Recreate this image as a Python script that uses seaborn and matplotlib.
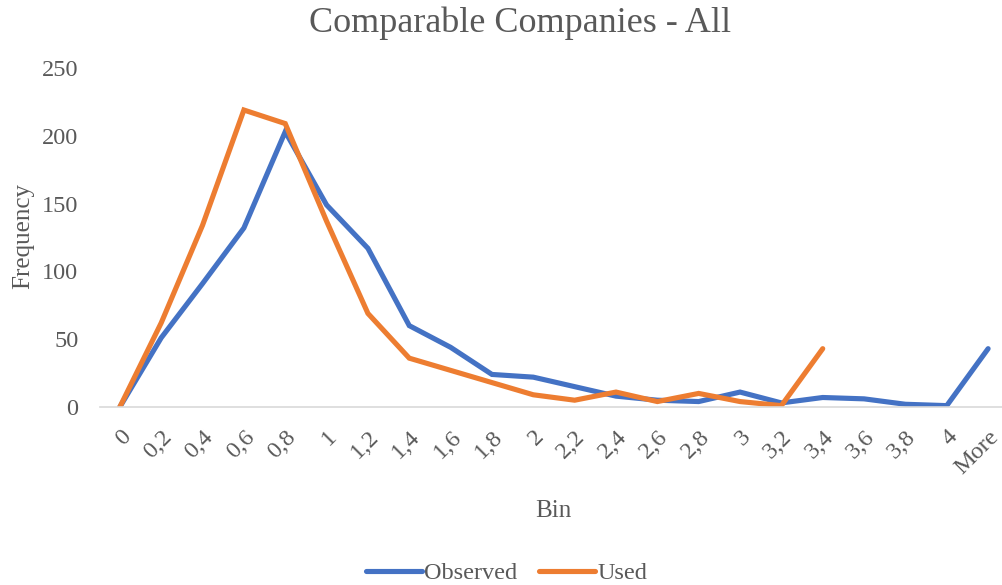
import numpy as np
import pandas as pd
import matplotlib
matplotlib.use("Agg")
import matplotlib.pyplot as plt
import seaborn as sns

bins = ["0", "0,2", "0,4", "0,6", "0,8", "1", "1,2", "1,4", "1,6", "1,8", "2",
        "2,2", "2,4", "2,6", "2,8", "3", "3,2", "3,4", "3,6", "3,8", "4", "More"]
observed = [0, 51, 91, 132, 203, 149, 117, 60, 44, 24, 22,
            15, 8, 5, 4, 11, 3, 7, 6, 2, 1, 43]
used = [0, 62, 134, 219, 209, 137, 69, 36, 27, 18, 9,
        5, 11, 4, 10, 4, 1, 43, np.nan, np.nan, np.nan, np.nan]

series_names = ["Observed", "Used"]
series_colors = ["#4472C4", "#ED7D31"]
text_color = "#595959"

df = pd.DataFrame({
    "pos": list(range(len(bins))) * 2,
    "Frequency": observed + used,
    "series": [series_names[0]] * len(bins) + [series_names[1]] * len(bins),
})

sns.set_style("white")
plt.rcParams["font.family"] = ["Liberation Serif", "DejaVu Serif"]

fig = plt.figure(figsize=(10.03, 5.85), dpi=100)
ax = fig.add_axes([0.0997, 0.3043, 0.9003, 0.5795])

line_w = 3.7
sns.lineplot(data=df, x="pos", y="Frequency", hue="series",
             hue_order=series_names, palette=series_colors,
             linewidth=line_w, ax=ax, legend=False, sort=False)
for ln in ax.lines:
    ln.set_solid_capstyle("round")
    ln.set_solid_joinstyle("miter")

ax.set_xlim(-0.48, 21.36)
ax.set_ylim(0, 250)
ax.set_yticks([0, 50, 100, 150, 200, 250])
ax.set_xticks(range(len(bins)))
ax.set_xticklabels(bins, rotation=45, ha="right", va="top",
                   rotation_mode="anchor")
ax.tick_params(axis="both", length=0, labelsize=17.5, labelcolor=text_color)
ax.tick_params(axis="x", pad=14)
ax.tick_params(axis="y", pad=15.5)

for side in ["top", "right", "left"]:
    ax.spines[side].set_visible(False)
ax.spines["bottom"].set_color("#D9D9D9")
ax.spines["bottom"].set_linewidth(1.2)

ax.set_xlabel("Bin", fontsize=18, color=text_color)
ax.xaxis.set_label_coords(0.5017, -0.274)
ax.set_ylabel("Frequency", fontsize=18, color=text_color, va="center")
ax.yaxis.set_label_coords(-0.0853, 0.504)
fig.text(0.519, 0.960, "Comparable Companies - All", ha="center", va="center",
         fontsize=26, color=text_color)

handles = [plt.Line2D([0], [0], color=c, linewidth=line_w, solid_capstyle="round")
           for c in series_colors]
leg = fig.legend(handles, series_names, loc="center", bbox_to_anchor=(0.505, 0.02),
                 ncol=2, frameon=False, fontsize=17.5, handlelength=2.3,
                 handletextpad=0.1, columnspacing=0.9, borderaxespad=0)
for t in leg.get_texts():
    t.set_color(text_color)

fig.savefig("out.png", dpi=100)
